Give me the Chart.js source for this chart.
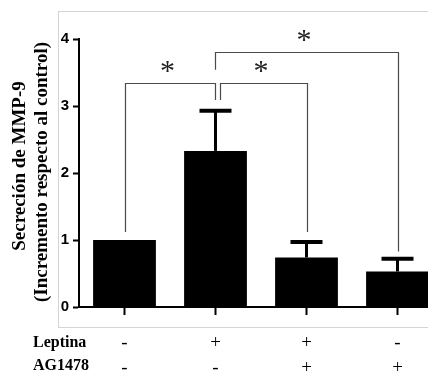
<!DOCTYPE html>
<html>
<head>
<meta charset="utf-8">
<script src="https://cdn.jsdelivr.net/npm/chart.js@4"></script>
<style>
  html, body { margin: 0; padding: 0; background: #fff; }
  #wrap { width: 428px; height: 375px; overflow: hidden; position: relative; }
  canvas { display: block; }
</style>
</head>
<body>
<div id="wrap"><canvas id="c" width="445" height="375"></canvas></div>
<script>
// Groups: Leptina / AG1478 treatment combinations
const categories = ['Control', 'Leptina', 'Leptina + AG1478', 'AG1478'];
const leptinaRow = ['-', '+', '+', '-'];
const ag1478Row = ['-', '-', '+', '+'];

// MMP-9 secretion (fold change vs control) and upper error (SEM)
const means = [1.0, 2.33, 0.74, 0.53];
const sem = [0, 0.60, 0.23, 0.19];

const yTicks = [0, 1, 2, 3, 4];

// Significance comparisons: group pairs, bracket level, leg bottoms
const sigPairs = [[0, 1], [1, 2], [1, 3]];
const sigLevels = [3.34, 3.34, 3.80];
const sigLegFrom = [1.12, 3.09, 3.54];
const sigLegTo = [3.09, 1.12, 0.83];
const sigLabels = ['*', '*', '*'];

const SERIF = '"Liberation Serif", "Times New Roman", serif';
const SANS = '"Liberation Sans", Arial, sans-serif';

const annotations = {
  id: 'annotations',
  beforeDraw(chart) {
    const ctx = chart.ctx;
    ctx.save();
    ctx.fillStyle = '#fff';
    ctx.fillRect(0, 0, chart.width, chart.height);
    // light frame around the plot
    ctx.strokeStyle = '#d4d4d4';
    ctx.lineWidth = 1;
    ctx.strokeRect(58.5, 11.5, chart.width + 10, 316);
    ctx.restore();
  },
  afterDatasetsDraw(chart) {
    const ctx = chart.ctx;
    const x = chart.scales.x, y = chart.scales.y;
    ctx.save();

    // error bars (upper only)
    ctx.strokeStyle = '#000';
    means.forEach((m, i) => {
      if (!sem[i]) return;
      const px = x.getPixelForValue(i);
      const top = y.getPixelForValue(m + sem[i]);
      ctx.lineWidth = 3;
      ctx.beginPath();
      ctx.moveTo(px, y.getPixelForValue(m));
      ctx.lineTo(px, top);
      ctx.stroke();
      ctx.lineWidth = 4;
      ctx.beginPath();
      ctx.moveTo(px - 16, top);
      ctx.lineTo(px + 16, top);
      ctx.stroke();
    });

    // significance brackets
    ctx.strokeStyle = '#4a4a4a';
    ctx.lineWidth = 1.2;
    ctx.fillStyle = '#222';
    ctx.font = '30px ' + SERIF;
    ctx.textAlign = 'center';
    ctx.textBaseline = 'middle';
    sigPairs.forEach(([a, b], k) => {
      const shiftA = a === 1 ? (b === 2 ? 0.05 : -0.01) : 0;
      const shiftB = b === 1 ? -0.01 : 0;
      const xa = Math.round(x.getPixelForValue(a + shiftA)) + 0.5;
      const xb = Math.round(x.getPixelForValue(b + shiftB)) + 0.5;
      const yl = Math.round(y.getPixelForValue(sigLevels[k])) + 0.5;
      ctx.beginPath();
      ctx.moveTo(xa, y.getPixelForValue(sigLegFrom[k]));
      ctx.lineTo(xa, yl);
      ctx.lineTo(xb, yl);
      ctx.lineTo(xb, y.getPixelForValue(sigLegTo[k]));
      ctx.stroke();
      ctx.fillText(sigLabels[k], (xa + xb) / 2 - 3, yl - 11);
    });

    // y axis title (two lines)
    ctx.fillStyle = '#000';
    ctx.font = 'bold 19px ' + SERIF;
    ctx.translate(0, 172);
    ctx.rotate(-Math.PI / 2);
    ctx.textBaseline = 'middle';
    ctx.fillText('Secreción de MMP-9', 6, 20);
    ctx.fillText('(Incremento respecto al control)', 0, 42);
    ctx.setTransform(1, 0, 0, 1, 0, 0);

    // treatment rows under the axis
    ctx.textAlign = 'left';
    ctx.font = 'bold 16px ' + SERIF;
    ctx.fillText('Leptina', 33, 343);
    ctx.fillText('AG1478', 33, 366);
    ctx.textAlign = 'center';
    ctx.font = '19px ' + SERIF;
    categories.forEach((c, i) => {
      const px = x.getPixelForValue(i);
      ctx.fillText(leptinaRow[i], px, 343);
      ctx.fillText(ag1478Row[i], px, 368);
    });
    ctx.restore();
  }
};

new Chart(document.getElementById('c'), {
  type: 'bar',
  data: {
    labels: categories,
    datasets: [{
      data: means,
      backgroundColor: '#000',
      borderWidth: 0,
      barPercentage: 0.69,
      categoryPercentage: 1
    }]
  },
  options: {
    responsive: false,
    animation: false,
    devicePixelRatio: 1,
    layout: { padding: { top: 39, right: 2, left: 0, bottom: 0 } },
    plugins: { legend: { display: false }, tooltip: { enabled: false } },
    scales: {
      x: {
        offset: true,
        ticks: { display: false },
        grid: { drawOnChartArea: false, offset: false, tickLength: 8, tickWidth: 2, color: '#000' },
        border: { display: true, width: 2, color: '#000' },
        afterFit(s) { s.height = 68; }
      },
      y: {
        min: 0,
        max: 4,
        afterBuildTicks(s) { s.ticks = yTicks.map(v => ({ value: v })); },
        ticks: { color: '#000', padding: 4, font: { family: SANS, size: 15, weight: 'bold' } },
        grid: { drawOnChartArea: false, tickLength: 6, tickWidth: 2, color: '#000' },
        border: { display: true, width: 2, color: '#000' },
        afterFit(s) { s.width = 79; }
      }
    }
  },
  plugins: [annotations]
});
</script>
</body>
</html>
